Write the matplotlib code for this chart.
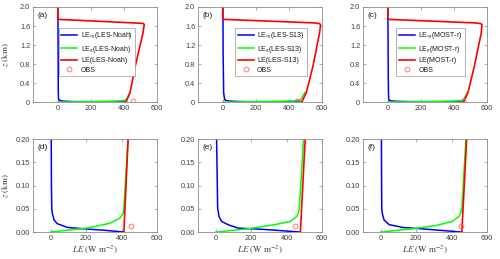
import matplotlib
matplotlib.use('Agg')
import matplotlib.pyplot as plt
from matplotlib.ticker import FixedLocator, FixedFormatter

plt.rcParams['mathtext.fontset'] = 'stix'
plt.rcParams['font.family'] = 'Liberation Sans'

models = ['LES-Noah', 'LES-S13', 'MOST-r']
top_labels = ['(a)', '(b)', '(c)']
bottom_labels = ['(d)', '(e)', '(f)']

# LE_sg profiles (W m-2, km)
le_sg_x = [
    [413, 300, 205, 93, 37, 19, 9, 6, 4, 3, 2, 1, 0],
    [478, 274, 126, 70, 33, 18, 15, 11, 5, 4, 2, 1, 0],
    [458, 274, 123, 47, 19, 9, 6, 5, 4, 3, 2, 1, 0],
]
le_sg_z = [
    [0.0, 0.004, 0.0065, 0.010, 0.018, 0.026, 0.04, 0.05, 0.1, 0.2, 1.0, 1.72, 2.0],
    [0.0, 0.0057, 0.0086, 0.0157, 0.023, 0.034, 0.043, 0.051, 0.2, 0.5, 1.0, 1.72, 2.0],
    [0.0, 0.0057, 0.010, 0.016, 0.026, 0.04, 0.05, 0.1, 0.2, 0.5, 1.0, 1.72, 2.0],
]

# LE_g profiles (only the near-surface part is visible; above it sits under LE)
le_g_x = [
    [0, 205, 335, 390, 409, 413, 424, 437],
    [0, 181, 330, 422, 459, 468, 472, 496],
    [0, 179, 311, 405, 443, 453, 458, 481],
]
le_g_z = [
    [0.0, 0.0086, 0.019, 0.03, 0.04, 0.05, 0.123, 0.2],
    [0.0, 0.007, 0.0157, 0.023, 0.034, 0.043, 0.051, 0.2],
    [0.0, 0.007, 0.014, 0.023, 0.034, 0.043, 0.051, 0.2],
]

# total LE profiles
le_x = [
    [413, 437, 468, 515, 523, 515, 459, 0, 0],
    [478, 505, 545, 585, 592, 585, 555, 0, 0],
    [458, 485, 523, 565, 570, 562, 530, 0, 0],
]
le_z = [
    [0.0, 0.2, 0.75, 1.45, 1.635, 1.655, 1.665, 1.74, 2.0],
    [0.0, 0.2, 0.75, 1.45, 1.62, 1.65, 1.665, 1.74, 2.0],
    [0.0, 0.2, 0.75, 1.45, 1.63, 1.65, 1.665, 1.74, 2.0],
]

obs_x = [452, 450, 455]
obs_z = [0.012, 0.012, 0.012]

top_yticks = [0, 0.4, 0.8, 1.2, 1.6, 2.0]
top_ylabels = ['0', '0.4', '0.8', '1.2', '1.6', '2.0']
bot_yticks = [0, 0.05, 0.10, 0.15, 0.20]
bot_ylabels = ['0.00', '0.05', '0.10', '0.15', '0.20']
xticks = [0, 200, 400, 600]

legend_left = [0.21, 0.30, 0.27]

text_c = '0.25'
spine_c = '0.55'

fig = plt.figure(figsize=(5, 2.59), dpi=100)

lefts = [0.066, 0.396, 0.726]
w = 0.248


def style_axes(ax):
    for s in ax.spines.values():
        s.set_color(spine_c)
        s.set_linewidth(0.6)
    ax.tick_params(direction='in', length=2, width=0.5, color=spine_c,
                   labelsize=5.3, labelcolor=text_c, top=True, right=True, pad=2)


for i in range(3):
    for row in range(2):
        if row == 0:
            ax = fig.add_axes([lefts[i], 0.606, w, 0.367])
        else:
            ax = fig.add_axes([lefts[i], 0.104, w, 0.359])
        ax.plot(le_sg_x[i], le_sg_z[i], color='b', lw=1.1,
                label='LE$_{\\rm sg}$(' + models[i] + ')')
        ax.plot(le_g_x[i], le_g_z[i], color=(0, 1, 0), lw=1.1,
                label='LE$_{\\rm g}$(' + models[i] + ')')
        ax.plot(le_x[i], le_z[i], color='r', lw=1.2,
                label='LE(' + models[i] + ')')
        ax.plot(obs_x[i], obs_z[i], 'o', mfc='none', mec=(1, 0.4, 0.4),
                ms=3.5, mew=0.6, label='OBS')
        style_axes(ax)
        ax.xaxis.set_major_locator(FixedLocator(xticks))
        if row == 0:
            ax.set_xlim(-150, 600)
            ax.set_ylim(0, 2.0)
            ax.yaxis.set_major_locator(FixedLocator(top_yticks))
            ax.yaxis.set_major_formatter(FixedFormatter(top_ylabels))
            ax.text(0.035, 0.91, top_labels[i], transform=ax.transAxes,
                    fontsize=6, color='0.1', va='center', ha='left')
            leg = ax.legend(loc='upper left', bbox_to_anchor=(legend_left[i], 0.78),
                            fontsize=5, handlelength=2.3, handletextpad=0.5,
                            labelspacing=0.35, borderpad=0.35, fancybox=False,
                            framealpha=1, edgecolor='0.6', borderaxespad=0)
            leg.get_frame().set_linewidth(0.5)
            for t in leg.get_texts():
                t.set_color('0.1')
        else:
            ax.set_xlim(-100, 600)
            ax.set_ylim(0, 0.2)
            ax.yaxis.set_major_locator(FixedLocator(bot_yticks))
            ax.yaxis.set_major_formatter(FixedFormatter(bot_ylabels))
            ax.text(0.035, 0.91, bottom_labels[i], transform=ax.transAxes,
                    fontsize=6, color='0.1', va='center', ha='left')
            ax.set_xlabel(r'$LE\ (\mathrm{W\ m^{-2}})$', fontsize=6.5,
                          color=text_c, labelpad=1)
        if i == 0:
            ax.set_ylabel(r'$z\ (\mathrm{km})$', fontsize=6.5, color=text_c, labelpad=2)
            ax.yaxis.set_label_coords(-0.17, 0.5)

fig.savefig('out.png', dpi=100)
